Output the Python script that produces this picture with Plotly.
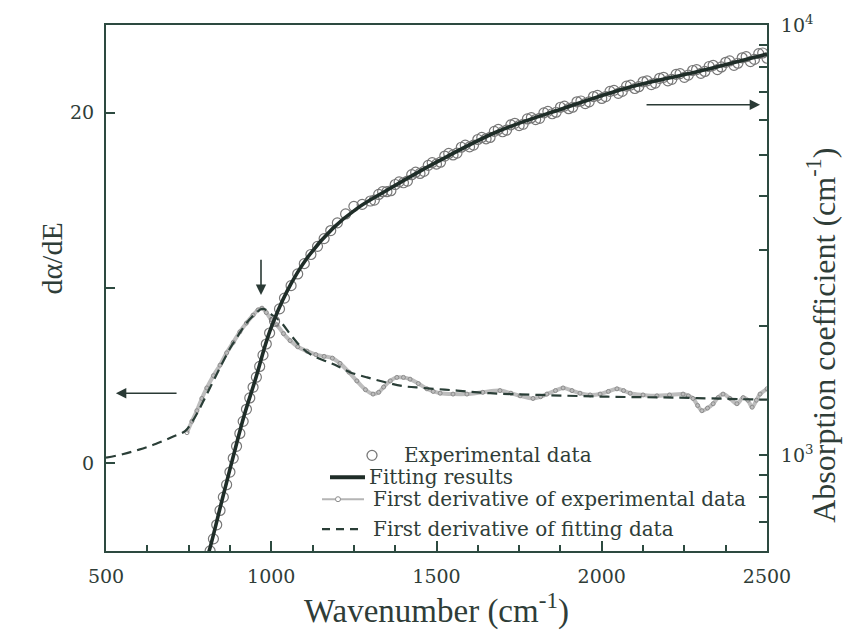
import plotly.graph_objects as go

# ---------------- data ----------------
# Absorption coefficient, experimental points (two interleaved sampling sets)
exp_w = [815, 825, 835, 845, 855, 865, 875, 885, 895, 905, 915, 925, 935, 945, 955, 965, 975, 985, 995,
         1010, 1025, 1040, 1060, 1080, 1100, 1120, 1140, 1160, 1180, 1200, 1225, 1250, 1275, 1300, 1325,
         1350, 1375, 1400, 1425, 1450, 1475, 1500, 1525, 1550, 1575, 1600, 1625, 1650, 1675, 1700, 1725,
         1750, 1775, 1800, 1825, 1850, 1875, 1900, 1925, 1950, 1975, 2000, 2025, 2050, 2075, 2100, 2125,
         2150, 2175, 2200, 2225, 2250, 2275, 2300, 2325, 2350, 2375, 2400, 2425, 2450, 2475, 2500]
exp_a = [600, 640, 690, 745, 800, 855, 915, 985, 1050, 1125, 1200, 1280, 1360, 1440, 1520, 1610, 1710, 1815, 1925,
         2050, 2190, 2320, 2480, 2640, 2790, 2930, 3060, 3190, 3330, 3470, 3640, 3790, 3830, 3900, 4040,
         4100, 4260, 4300, 4490, 4520, 4720, 4750, 4960, 4990, 5200, 5210, 5420, 5440, 5660, 5650, 5860,
         5840, 6050, 6030, 6250, 6220, 6440, 6390, 6630, 6570, 6820, 6750, 7010, 6940, 7210, 7120, 7380,
         7270, 7520, 7420, 7680, 7560, 7840, 7720, 8010, 7880, 8190, 8060, 8390, 8220, 8580, 8370]
exp_w_b = [1312, 1337, 1362, 1387, 1412, 1437, 1462, 1487, 1512, 1537, 1562, 1587, 1612, 1637, 1662, 1687,
           1712, 1737, 1762, 1787, 1812, 1837, 1862, 1887, 1912, 1937, 1962, 1987, 2012, 2037, 2062, 2087,
           2112, 2137, 2162, 2187, 2212, 2237, 2262, 2287, 2312, 2337, 2362, 2387, 2412, 2437, 2462, 2487]
exp_a_b = [3920, 4100, 4120, 4320, 4340, 4550, 4570, 4790, 4800, 5030, 5040, 5260, 5260, 5480, 5480, 5720,
           5700, 5910, 5880, 6090, 6070, 6300, 6270, 6480, 6440, 6660, 6630, 6860, 6820, 7050, 7010, 7250,
           7190, 7420, 7330, 7560, 7480, 7710, 7650, 7880, 7800, 8060, 7990, 8250, 8150, 8440, 8320, 8610]

# Fitting result
fit_w = [800, 812, 851, 884, 918, 951, 996, 1048, 1108, 1187, 1260, 1350, 1500, 1683, 1883, 2086, 2288, 2500]
fit_a = [565, 600, 787, 988, 1238, 1493, 1946, 2409, 2872, 3373, 3750, 4130, 4800, 5650, 6400, 7180, 7790, 8560]

# First derivative of experimental data
dexp_w = [745, 760, 775, 790, 805, 825, 845, 865, 885, 905, 925, 945, 960, 972, 985, 1000, 1017, 1037, 1057,
          1080, 1108, 1135, 1160, 1185, 1208, 1235, 1259, 1285, 1308, 1325, 1340, 1360, 1380, 1400, 1420,
          1445, 1471, 1490, 1511, 1550, 1592, 1640, 1692, 1725, 1753, 1792, 1815, 1834, 1860, 1883, 1910,
          1934, 1965, 1995, 2020, 2046, 2066, 2086, 2125, 2167, 2205, 2246, 2262, 2276, 2290, 2303, 2320,
          2337, 2352, 2367, 2388, 2409, 2428, 2442, 2455, 2468, 2479, 2500]
dexp_v = [1.75, 2.4, 3.0, 3.7, 4.3, 5.0, 5.6, 6.3, 6.9, 7.5, 8.0, 8.45, 8.75, 8.85, 8.6, 8.2, 7.9, 7.4, 7.0,
          6.65, 6.4, 6.2, 6.1, 6.0, 5.7, 5.2, 4.7, 4.2, 3.95, 4.05, 4.35, 4.7, 4.9, 4.9, 4.8,
          4.55, 4.25, 4.1, 4.0, 3.95, 3.95, 4.05, 4.15, 4.0, 3.85, 3.7, 3.8, 3.95, 4.15, 4.3, 4.15,
          4.0, 3.9, 3.95, 4.1, 4.25, 4.15, 4.0, 3.9, 3.85, 3.9, 3.95, 3.85, 3.7, 3.3, 3.0, 3.15,
          3.4, 3.75, 3.95, 3.7, 3.4, 3.75, 3.6, 3.2, 3.6, 3.95, 4.25]

# First derivative of fitting data
dfit_w = [500, 550, 600, 650, 700, 740, 760, 780, 800, 825, 850, 875, 900, 925, 950, 970, 985, 1000, 1027,
          1060, 1087, 1120, 1169, 1200, 1238, 1290, 1350, 1400, 1459, 1562, 1662, 1813, 2016, 2216, 2418, 2500]
dfit_v = [0.32, 0.52, 0.78, 1.1, 1.5, 1.85, 2.35, 3.0, 3.75, 4.7, 5.65, 6.55, 7.3, 8.0, 8.5, 8.8, 8.75, 8.5, 8.1,
          7.3, 6.7, 6.2, 5.8, 5.55, 5.2, 4.9, 4.6, 4.4, 4.3, 4.15, 4.0, 3.9, 3.8, 3.75, 3.66, 3.63]

legend_names = ["Experimental data", "Fitting results",
                "First derivative of experimental data", "First derivative of fitting data"]

x_ticks = [500, 1000, 1500, 2000, 2500]
left_ticks = [0, 10, 20]
left_labels = ["0", "", "20"]
right_ticks = [600, 700, 800, 900, 1000, 2000, 3000, 4000, 5000, 6000, 7000, 8000, 9000, 10000]
right_labels = ["", "", "", "", "10<sup>3</sup>", "", "", "", "", "", "", "", "", "10<sup>4</sup>"]

# ---------------- style / layout ----------------
W, H = 865, 634
L, R, T, B = 106, 98, 23, 83
AX = "#2d4a40"
TXT = "#2f3d38"
GRAYC = "#777777"
TICKFONT = dict(family="DejaVu Serif", size=19, color=TXT)


def px(x):
    return (x - L) / (W - L - R)


def py(y):
    return (H - B - y) / (H - T - B)


fig = go.Figure()

fig.add_trace(go.Scatter(
    x=exp_w + exp_w_b, y=exp_a + exp_a_b, yaxis="y2", mode="markers", name=legend_names[0],
    marker=dict(symbol="circle-open", size=10, color=GRAYC, line=dict(width=1.2)),
))
fig.add_trace(go.Scatter(
    x=fit_w, y=fit_a, yaxis="y2", mode="lines", name=legend_names[1],
    line=dict(color="#1f2d28", width=3.6, shape="spline"),
))
fig.add_trace(go.Scatter(
    x=dexp_w, y=dexp_v, yaxis="y", mode="lines+markers", name=legend_names[2],
    line=dict(color="#bdbdbd", width=4, shape="spline"),
    marker=dict(symbol="circle-open", size=4, color="#8c8c8c", line=dict(width=1)),
))
fig.add_trace(go.Scatter(
    x=dfit_w, y=dfit_v, yaxis="y", mode="lines", name=legend_names[3],
    line=dict(color="#2a3e37", width=2.2, dash="10px,6px", shape="spline"),
))

fig.update_layout(
    width=W, height=H,
    margin=dict(l=L, r=R, t=T, b=B),
    paper_bgcolor="white", plot_bgcolor="white",
    showlegend=False,
    xaxis=dict(range=[500, 2500], tickvals=x_ticks, ticks="inside", ticklen=10, tickwidth=1.5,
               tickcolor=AX, showline=True, linecolor=AX, linewidth=2, mirror=True,
               showgrid=False, zeroline=False, tickfont=TICKFONT, ticklabelstandoff=7,
               minor=dict(dtick=125, tick0=500, ticks="inside", ticklen=6, tickcolor=AX, showgrid=False),
               title=dict(text="Wavenumber (cm<sup>-1</sup>)",
                          font=dict(family="Liberation Serif", size=33, color=TXT), standoff=4)),
    yaxis=dict(range=[-5, 25], tickvals=left_ticks, ticktext=left_labels, ticks="inside", ticklen=9,
               tickwidth=1.5, tickcolor=AX, showline=True, linecolor=AX, linewidth=2,
               showgrid=False, zeroline=False, tickfont=TICKFONT, ticklabelstandoff=6),
    yaxis2=dict(type="log", range=[2.778, 4.0], overlaying="y", side="right",
                tickvals=right_ticks, ticktext=right_labels, ticks="inside", ticklen=8, tickwidth=1.5,
                tickcolor=AX, showline=True, linecolor=AX, linewidth=2, showgrid=False, zeroline=False,
                tickfont=TICKFONT, ticklabelstandoff=8),
)

# axis titles placed as annotations (reference titles are not centred on the axes)
fig.add_annotation(text="dα/dE", xref="paper", yref="paper", x=px(33), y=py(258), textangle=-90,
                   showarrow=False, font=dict(family="Liberation Serif", size=30, color=TXT))
fig.add_annotation(text="Absorption coefficient (cm<sup>-1</sup>)", xref="paper", yref="paper",
                   x=px(843), y=py(335), textangle=-90, showarrow=False,
                   font=dict(family="Liberation Serif", size=32, color=TXT))

# arrows
arrow = dict(showarrow=True, arrowhead=2, arrowsize=1.3, arrowwidth=1.6, arrowcolor="#2a3a35",
             text="", xref="x", yref="y", axref="x", ayref="y")
fig.add_annotation(x=530, y=4.0, ax=718, ay=4.0, **arrow)
fig.add_annotation(x=2479, y=20.45, ax=2131, ay=20.45, **arrow)
fig.add_annotation(x=969, y=9.6, ax=969, ay=11.7, **arrow)

# hand-made legend (as in the reference)
LEGFONT = dict(family="DejaVu Serif", size=20, color=TXT)
rows = [455, 477, 499, 529]
text_x = [402, 367, 371, 371]
for name, ry, tx in zip(legend_names, rows, text_x):
    fig.add_annotation(text=name, xref="paper", yref="paper", x=px(tx), y=py(ry),
                       xanchor="left", yanchor="middle", showarrow=False, font=LEGFONT)
shp = dict(xref="paper", yref="paper")
fig.add_shape(type="circle", x0=px(367), x1=px(377), y0=py(460), y1=py(450),
              line=dict(color=GRAYC, width=1.3), **shp)
fig.add_shape(type="line", x0=px(330), x1=px(365), y0=py(477), y1=py(477),
              line=dict(color="#1f2d28", width=4), **shp)
fig.add_shape(type="line", x0=px(322), x1=px(364), y0=py(499), y1=py(499),
              line=dict(color="#b5b5b5", width=2), **shp)
fig.add_shape(type="circle", x0=px(335.5), x1=px(340.5), y0=py(501.5), y1=py(496.5),
              fillcolor="white", line=dict(color="#8c8c8c", width=1), **shp)
fig.add_shape(type="line", x0=px(322), x1=px(358), y0=py(529), y1=py(529),
              line=dict(color="#2a3e37", width=2.2, dash="8px,6px"), **shp)

fig.write_html("out.html")
